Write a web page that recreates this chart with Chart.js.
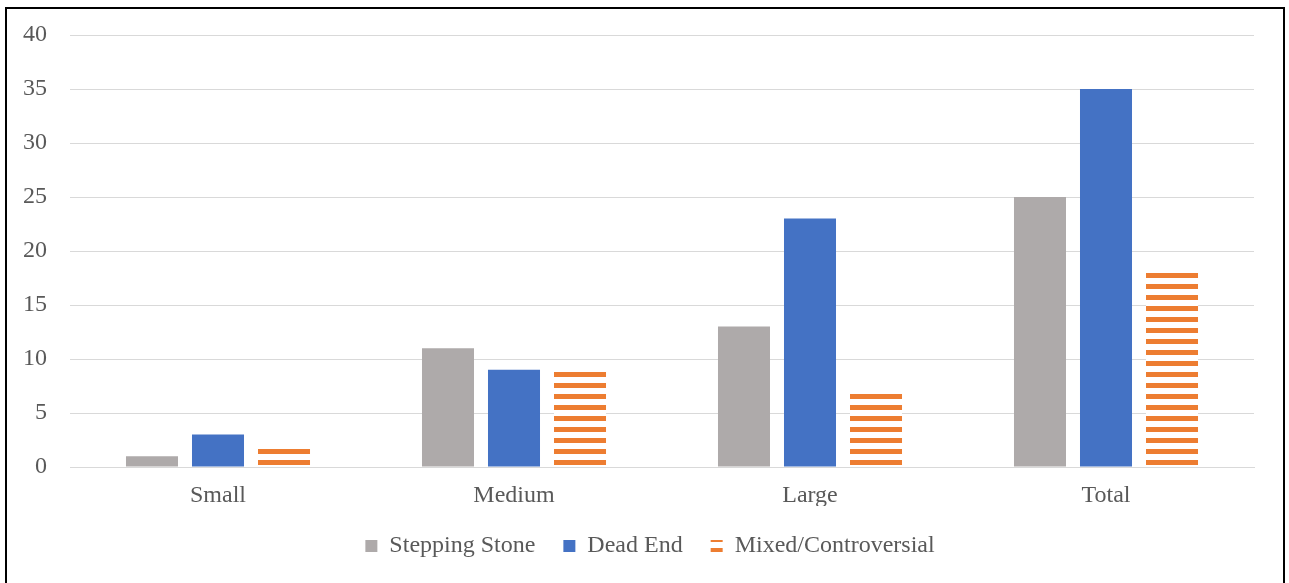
<!DOCTYPE html>
<html>
<head>
<meta charset="utf-8">
<script src="https://cdn.jsdelivr.net/npm/chart.js@4"></script>
<style>
  html, body { margin: 0; padding: 0; background: #fff; }
  #wrap { position: relative; width: 1289px; height: 583px; }
  #frame { position: absolute; left: 5px; top: 7px; width: 1280px; height: 600px; border: 2px solid #000; box-sizing: border-box; pointer-events: none; }
</style>
</head>
<body>
<div id="wrap">
  <canvas id="chart" width="1289" height="583"></canvas>
  <div id="frame"></div>
</div>
<script>
const categories = ['Small', 'Medium', 'Large', 'Total'];
const steppingStone = [1, 11, 13, 25];
const deadEnd = [3, 9, 23, 35];
const mixedControversial = [2, 9, 7, 18];

// horizontal stripe fill like the Excel pattern (period 11px, 5px colour)
function stripes(color) {
  const c = document.createElement('canvas');
  c.width = 8; c.height = 11;
  const ctx = c.getContext('2d');
  ctx.fillStyle = '#ffffff';
  ctx.fillRect(0, 0, 8, 11);
  ctx.fillStyle = color;
  ctx.fillRect(0, 0, 8, 3);
  ctx.fillRect(0, 9, 8, 2);
  return ctx.createPattern(c, 'repeat');
}

const font = { family: '"Liberation Serif", "Times New Roman", serif', size: 24, lineHeight: 1 };

// nudge the legend to the right a little
const legendShift = {
  id: 'legendShift',
  afterLayout(chart) {
    chart.legend.left += 23;
    chart.legend.right += 23;
  }
};

new Chart(document.getElementById('chart'), {
  type: 'bar',
  data: {
    labels: categories,
    datasets: [
      { label: 'Stepping Stone', data: steppingStone, backgroundColor: '#aeaaaa' },
      { label: 'Dead End', data: deadEnd, backgroundColor: '#4472c4' },
      { label: 'Mixed/Controversial', data: mixedControversial, backgroundColor: stripes('#ed7d31') }
    ]
  },
  plugins: [legendShift],
  options: {
    responsive: false,
    animation: false,
    categoryPercentage: 0.669,
    barPercentage: 0.788,
    layout: { padding: { left: 0, right: 35, top: 26, bottom: 15 } },
    scales: {
      x: {
        grid: { display: false },
        border: { color: '#d9d9d9', width: 1 },
        ticks: { font: font, color: '#595959', padding: 9 },
        afterFit: s => { s.height = 39; }
      },
      y: {
        min: 0, max: 40,
        ticks: { stepSize: 5, font: font, color: '#595959', padding: 23 },
        grid: { color: '#d9d9d9', drawTicks: false },
        border: { display: false },
        afterFit: s => { s.width = 70; }
      }
    },
    plugins: {
      legend: {
        position: 'bottom',
        maxHeight: 78,
        labels: { font: font, color: '#595959', boxWidth: 12, boxHeight: 12, padding: 28 }
      },
      tooltip: { enabled: false }
    }
  }
});
</script>
</body>
</html>
